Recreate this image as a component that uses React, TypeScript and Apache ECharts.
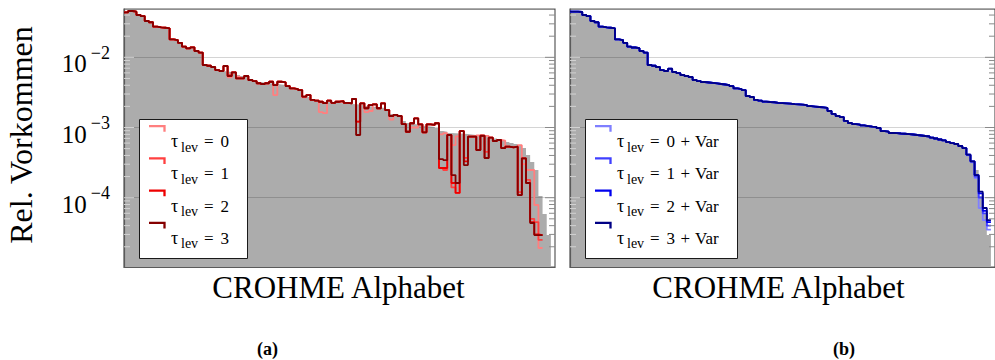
import React, { useEffect, useRef } from "react";
import * as echarts from "echarts";

// Axis ranges (log scale on y, symbol rank on x)
const Y_MIN = 1.03e-5;
const Y_MAX = 0.0488;
const X_MAX = 104;

// Ground-truth relative frequency of each symbol, sorted descending
const GT_FREQ = [
  0.0449, 0.0449, 0.0442, 0.0401, 0.0387, 0.0329, 0.0316, 0.0273, 0.0267, 0.0264,
  0.0259, 0.018, 0.0176, 0.0161, 0.0142, 0.0138, 0.0135, 0.0123, 0.0117, 0.00777,
  0.00759, 0.00728, 0.00659, 0.00638, 0.00628, 0.00618, 0.00597, 0.0056, 0.00542, 0.00524,
  0.00475, 0.00459, 0.00445, 0.00438, 0.00431, 0.00424, 0.00417, 0.0041, 0.00403, 0.0039,
  0.00361, 0.00353, 0.00342, 0.00281, 0.00272, 0.00247, 0.00241, 0.00234, 0.00231, 0.00229,
  0.00225, 0.00223, 0.00221, 0.00219, 0.00216, 0.00214, 0.00212, 0.00209, 0.00202, 0.00199,
  0.00196, 0.00193, 0.0019, 0.00172, 0.00156, 0.00146, 0.00141, 0.00124, 0.00116, 0.00112,
  0.0011, 0.00107, 0.00105, 0.00103, 0.00102, 0.000984, 0.000891, 0.000871, 0.000835, 0.00083,
  0.000822, 0.000815, 0.000807, 0.000795, 0.000782, 0.00077, 0.000757, 0.000745, 0.00072, 0.000697,
  0.000675, 0.000654, 0.000621, 0.000601, 0.000582, 0.000545, 0.00051, 0.000406, 0.000323, 0.000248,
  0.000106, 0.0000586, 0.0000294,
];

// Generated frequency, tau_lev = 3
const TAU3 = [
  0.0438, 0.0457, 0.0447, 0.0401, 0.0387, 0.0329, 0.0316, 0.0273, 0.0267, 0.0264,
  0.0259, 0.018, 0.0176, 0.0161, 0.0142, 0.0134, 0.0139, 0.0123, 0.0117, 0.00777,
  0.00759, 0.00728, 0.00659, 0.00638, 0.00752, 0.00542, 0.00611, 0.00502, 0.00502, 0.00542,
  0.00475, 0.00459, 0.00427, 0.00417, 0.00427, 0.00449, 0.00403, 0.00449, 0.00441, 0.0039,
  0.00361, 0.00353, 0.00342, 0.00275, 0.0029, 0.00247, 0.00241, 0.00233, 0.00223, 0.00241,
  0.00225, 0.00233, 0.00238, 0.00225, 0.00221, 0.00255, 0.000782, 0.00221, 0.00188, 0.00209,
  0.00214, 0.00188, 0.00221, 0.00177, 0.00146, 0.00151, 0.00146, 0.00112, 0.000871, 0.00115,
  0.00135, 0.00111, 0.000855, 0.00111, 0.00109, 0.00115, 0.000355, 0.000344, 0.000782, 0.00021,
  0.000162, 0.000891, 0.000292, 0.00074, 0.00074, 0.000478, 0.000763, 0.000368, 0.000716, 0.000643,
  0.000664, 0.00051, 0.000534, 0.000522, 0.000534, 0.000109, 0.000364, 0.000162, 0.0000436, 0.0000294,
  0.0000294,
];

// Bins where the lower tau levels differ from tau_lev = 3
const TAU2_DIFF: Record<number, number> = {
  56: 0.00121, 76: 0.000265, 77: 0.000265, 79: 0.000162, 80: 0.000117, 82: 0.00033,
  95: 0.000109, 98: 0.000045, 99: 0.00003, 100: 0.0000294,
};
const TAU1_DIFF: Record<number, number> = {
  25: 0.0056, 56: 0.00121, 76: 0.000265, 77: 0.000248, 79: 0.00014, 80: 0.000117, 82: 0.00037,
  87: 0.00045, 95: 0.00012, 97: 0.00018, 98: 0.00005, 99: 0.000045, 100: 0.000025,
};
const TAU0_DIFF: Record<number, number> = {
  25: 0.0052, 27: 0.0053, 36: 0.0029, 43: 0.0027, 47: 0.00166, 48: 0.0016, 56: 0.00121,
  58: 0.00166, 59: 0.00172, 64: 0.0013, 69: 0.001, 70: 0.001, 76: 0.0008, 77: 0.00083,
  79: 0.00056, 80: 0.00075, 82: 0.00037, 85: 0.00077, 87: 0.00076, 91: 0.00065, 95: 0.00056,
  96: 0.0003, 97: 0.000248, 98: 0.000248, 99: 0.0000787, 100: 0.0000192,
};

// Generated frequency with variation, deviations from the ground truth
const VAR3_DIFF: Record<number, number> = {
  24: 0.0069, 97: 0.00041, 98: 0.00033, 99: 0.00021, 100: 0.000122, 101: 0.0000714, 102: 0.0000478,
};
const VAR2_DIFF: Record<number, number> = {
  24: 0.0069, 97: 0.00041, 98: 0.00033, 99: 0.00021, 100: 0.000115, 101: 0.000065, 102: 0.000045,
};
const VAR1_DIFF: Record<number, number> = {
  24: 0.0068, 97: 0.00041, 98: 0.00033, 99: 0.0002, 100: 0.0001, 101: 0.00006, 102: 0.00004,
};
const VAR0_DIFF: Record<number, number> = {
  24: 0.0067, 97: 0.0004, 98: 0.00032, 99: 0.00019, 100: 0.0000714, 101: 0.0000478, 102: 0.000035,
};

const TAU_LABELS = ["0", "1", "2", "3"];
const RED_COLORS = ["#ff7f7f", "#ff4040", "#ee0000", "#850000"];
const BLUE_COLORS = ["#7f7fff", "#4040ff", "#0000ee", "#000085"];
const FILL_GRAY = "#acacac";
const FRAME = "#5a5a5a";
const SERIF = "Liberation Serif";

const TICK_MANTISSAS = [1, 2, 3, 4, 5, 6, 7, 8, 9];
const TICK_DECADES = [-5, -4, -3, -2];

function withDiff(base: number[], diff: Record<number, number>): number[] {
  return base.map((v, i) => (diff[i] !== undefined ? diff[i] : v));
}

// Const-plot points: every value holds until the next index
function steps(vals: number[]): number[][] {
  const pts = vals.map((v, i) => [i, v]);
  pts.push([vals.length, vals[vals.length - 1]]);
  return pts;
}

function tickValues(): number[][] {
  const out: number[][] = [];
  TICK_DECADES.forEach((d) =>
    TICK_MANTISSAS.forEach((m) => {
      const v = m * Math.pow(10, d);
      if (v > Y_MIN && v < Y_MAX) out.push([0, v, m === 1 ? 1 : 0]);
    })
  );
  return out;
}

function textEl(text: string, x: number, baseline: number, size: number, extra: any = {}) {
  return {
    type: "text",
    x,
    y: Math.round((baseline - 0.3375 * size) * 10) / 10,
    style: {
      text,
      fontSize: size,
      fontFamily: SERIF,
      fill: "#000",
      align: extra.align || "left",
      verticalAlign: "middle",
      fontWeight: extra.fontWeight || "normal",
    },
  };
}

function legendElements(left: number, width: number, colors: string[], extra: boolean): any[] {
  const top = 119;
  const height = 139;
  const step = 32.2;
  const els: any[] = [
    {
      type: "rect",
      z: 100,
      shape: { x: left + 0.5, y: top + 0.5, width, height },
      style: { fill: "#ffffff", stroke: "#1a1a1a", lineWidth: 1 },
    },
  ];
  colors.forEach((c, k) => {
    const my = 126.2 + step * k;
    const base = 147.3 + step * k;
    els.push({
      type: "polyline",
      z: 101,
      shape: { points: [[left + 10, my], [left + 25.5, my], [left + 25.5, my + 5.6]] },
      style: { stroke: c, lineWidth: 2.3, fill: "none" },
    });
    const parts = [
      textEl("τ", left + 32, base, 18),
      textEl("lev", left + 42, base + 4.4, 14),
      textEl("=", left + 65, base, 17),
      textEl(TAU_LABELS[k], left + 81.5, base, 17),
    ];
    if (extra) {
      parts.push(textEl("+", left + 95.5, base, 17));
      parts.push(textEl("Var", left + 110, base, 17));
    }
    parts.forEach((p: any) => {
      p.z = 101;
      els.push(p);
    });
  });
  return els;
}

function tickSeries(xi: number) {
  return {
    type: "custom",
    xAxisIndex: xi,
    yAxisIndex: xi,
    z: 4,
    silent: true,
    data: tickValues(),
    renderItem: (_params: any, api: any) => {
      const v = api.value(1);
      const len = api.value(2) === 1 ? 10 : 6;
      const l = api.coord([0, v]);
      const r = api.coord([X_MAX, v]);
      return {
        type: "group",
        children: [
          { type: "line", shape: { x1: l[0], y1: l[1], x2: l[0] + len, y2: l[1] }, style: { stroke: "#d2d2d2", lineWidth: 1 } },
          { type: "line", shape: { x1: r[0] - len, y1: r[1], x2: r[0], y2: r[1] }, style: { stroke: "#8a8a8a", lineWidth: 1 } },
        ],
      };
    },
  };
}

function App() {
  const ref = useRef<HTMLDivElement>(null);

  useEffect(() => {
    if (!ref.current) return;
    const chart = echarts.init(ref.current, undefined, { renderer: "svg" });

    const red = [withDiff(TAU3, TAU0_DIFF), withDiff(TAU3, TAU1_DIFF), withDiff(TAU3, TAU2_DIFF), TAU3];
    const blue = [VAR0_DIFF, VAR1_DIFF, VAR2_DIFF, VAR3_DIFF].map((d) => withDiff(GT_FREQ, d));

    const xAxis = (gi: number) => ({
      type: "value",
      gridIndex: gi,
      min: 0,
      max: X_MAX,
      z: 2,
      axisLine: { show: true, lineStyle: { color: FRAME, width: 1.2 } },
      axisTick: { show: false },
      axisLabel: { show: false },
      splitLine: { show: false },
    });

    const yAxis = (gi: number, labels: boolean) => ({
      type: "log",
      logBase: 10,
      gridIndex: gi,
      min: Y_MIN,
      max: Y_MAX,
      z: 2,
      axisLine: { show: true, lineStyle: { color: FRAME, width: 1.2 } },
      axisTick: { show: false },
      splitLine: { show: true, lineStyle: { color: "rgba(0,0,0,0.17)", width: 1 } },
      axisLabel: {
        show: labels,
        margin: 14,
        fontSize: 25,
        fontFamily: SERIF,
        color: "#000",
        formatter: (v: number) => {
          const e = Math.round(Math.log10(v));
          if (Math.abs(Math.log10(v) - e) > 1e-6) return "";
          return `{b|10}{s|−${-e}}`;
        },
        rich: {
          b: { fontSize: 25, lineHeight: 25, fontFamily: SERIF, color: "#000", verticalAlign: "middle", padding: [13, 0, 0, 0] },
          s: { fontSize: 18, lineHeight: 18, fontFamily: SERIF, color: "#000", verticalAlign: "middle", padding: [0, 0, 9, 4] },
        },
      },
    });

    const grayArea = (gi: number) => ({
      type: "line",
      xAxisIndex: gi,
      yAxisIndex: gi,
      data: steps(GT_FREQ),
      step: "end",
      showSymbol: false,
      z: 1,
      silent: true,
      lineStyle: { width: 0, opacity: 0 },
      areaStyle: { color: FILL_GRAY, opacity: 1, origin: "start" },
    });

    const lines = (gi: number, sets: number[][], colors: string[], prefix: string) =>
      sets.map((vals, k) => ({
        type: "line",
        name: `${prefix}${k}`,
        xAxisIndex: gi,
        yAxisIndex: gi,
        data: steps(vals),
        step: "end",
        showSymbol: false,
        z: 3,
        lineStyle: { color: colors[k], width: 1.8 },
      }));

    chart.setOption({
      animation: false,
      backgroundColor: "#ffffff",
      grid: [
        { left: 124, top: 9, width: 431, height: 258, show: true, borderColor: FRAME, borderWidth: 1.2 },
        { left: 570, top: 9, width: 431, height: 258, show: true, borderColor: FRAME, borderWidth: 1.2 },
      ],
      xAxis: [xAxis(0), xAxis(1)],
      yAxis: [yAxis(0, true), yAxis(1, false)],
      series: [
        grayArea(0),
        tickSeries(0),
        ...lines(0, red, RED_COLORS, "tau"),
        grayArea(1),
        tickSeries(1),
        ...lines(1, blue, BLUE_COLORS, "tauVar"),
      ],
      graphic: [
        {
          type: "text",
          x: 21,
          y: 135,
          rotation: Math.PI / 2,
          style: { text: "Rel. Vorkommen", fontSize: 32, fontFamily: SERIF, fill: "#000", align: "center", verticalAlign: "middle" },
        },
        textEl("CROHME Alphabet", 338.5, 298, 31, { align: "center" }),
        textEl("CROHME Alphabet", 778.5, 298, 31, { align: "center" }),
        textEl("(a)", 267.5, 355, 18, { align: "center", fontWeight: "bold" }),
        textEl("(b)", 844, 355, 18, { align: "center", fontWeight: "bold" }),
        ...legendElements(139, 108, RED_COLORS, false),
        ...legendElements(585, 152, BLUE_COLORS, true),
      ],
    });

    return () => chart.dispose();
  }, []);

  return (
    <div
      ref={ref}
      style={{ position: "absolute", left: 0, top: 0, width: 995, height: 360, background: "#fff" }}
    />
  );
}

export default App;
